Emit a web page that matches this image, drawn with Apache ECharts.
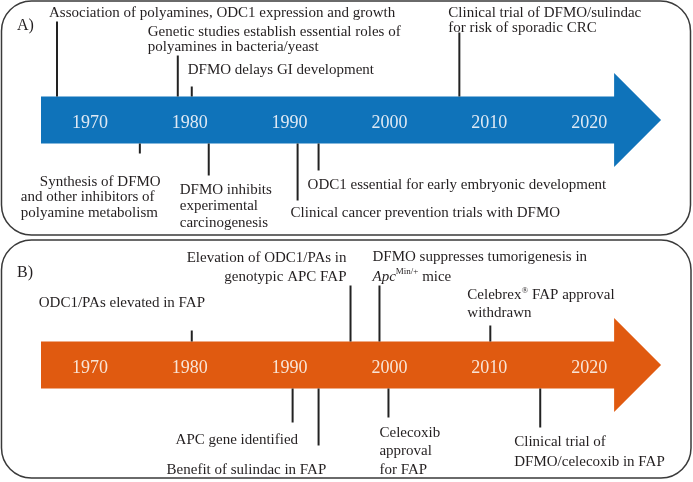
<!DOCTYPE html>
<html><head><meta charset="utf-8">
<script src="https://cdn.jsdelivr.net/npm/echarts@6/dist/echarts.min.js"></script>
<style>html,body{margin:0;padding:0;background:#fff}#c{width:693px;height:482px}</style>
</head><body><div id="c"></div>
<script>
// ---------- data ----------
const yearTicks = [1970, 1980, 1990, 2000, 2010, 2020];
const panelLabels = ['A)', 'B)'];
const timelineRange = [1965.1, 2022.5, 2027.2]; // start, arrow-head base, tip

const eventsAYears = [1966.7, 1978.8, 1980.2, 2007.0, 1975.0, 1981.9, 1990.8, 1992.9];
const eventsASide  = ['above', 'above', 'above', 'above', 'below', 'below', 'below', 'below'];
const eventsALabels = [
  'Association of polyamines, ODC1 expression and growth',
  'Genetic studies establish essential roles of\npolyamines in bacteria/yeast',
  'DFMO delays GI development',
  'Clinical trial of DFMO/sulindac\nfor risk of sporadic CRC',
  '{p|Synthesis of DFMO}\nand other inhibitors of\npolyamine metabolism',
  'DFMO inhibits\nexperimental\ncarcinogenesis',
  'Clinical cancer prevention trials with DFMO',
  'ODC1 essential for early embryonic development'
];

const eventsBYears = [1980.2, 1996.1, 1999.0, 2010.1, 1990.3, 1992.9, 1999.9, 2015.1];
const eventsBSide  = ['above', 'above', 'above', 'above', 'below', 'below', 'below', 'below'];
const eventsBLabels = [
  'ODC1/PAs elevated in FAP',
  'Elevation of ODC1/PAs in\ngenotypic APC FAP',
  'DFMO suppresses tumorigenesis in\n{i|Apc}{s|Min/+} mice',
  'Celebrex{s|®} FAP approval\nwithdrawn',
  'APC gene identified',
  'Benefit of sulindac in FAP',
  'Celecoxib\napproval\nfor FAP',
  'Clinical trial of\nDFMO/celecoxib in FAP'
];

// ---------- layout (pixels): [stemLength, labelDx, labelDy, align, lineHeight] ----------
const layoutA = [
  [75, -8, -107, 'left', 15],
  [41, -30, -80.5, 'left', 15],
  [10, -4, -50, 'left', 15],
  [64, -11, -99.5, 'left', 15],
  [10, -119, 77.5, 'left', 15.5],
  [32, -29, 86.5, 'left', 16.5],
  [57, -7, 93, 'left', 15],
  [27, -11, 65, 'left', 15]
];
const layoutB = [
  [11, -153, -62, 'left', 15],
  [56, -4, -97.5, 'right', 19],
  [56, -7, -98, 'left', 20],
  [16, -23, -61, 'left', 18],
  [34, -117, 75, 'left', 15],
  [57, -152, 105, 'left', 15],
  [29, -9, 86.5, 'left', 18.5],
  [39, -26, 87, 'left', 20]
];

const FONT = "'Liberation Serif', 'Times New Roman', serif";
const TXT = '#231f20';
const BLUE = '#0f73ba';
const ORANGE = '#e05a10';
const BODY_HALF = 23.5, HEAD_HALF = 47;

const rich = {
  p: { padding: [0, 0, 0, 19], fontFamily: FONT, fontSize: 15, fill: TXT },
  i: { fontStyle: 'italic', fontFamily: FONT, fontSize: 15, fill: TXT },
  s: { fontSize: 9, fontFamily: FONT, fill: TXT, verticalAlign: 'top', lineHeight: 10 }
};

function arrowRender(color) {
  return function (params, api) {
    const s = api.value(0), b = api.value(2), t = api.value(3);
    const p = (x, y) => api.coord([x, y]);
    return {
      type: 'polygon',
      shape: { points: [p(s, -BODY_HALF), p(b, -BODY_HALF), p(b, -HEAD_HALF), p(t, 0),
                        p(b, HEAD_HALF), p(b, BODY_HALF), p(s, BODY_HALF)] },
      style: { fill: color }
    };
  };
}

function eventRender(labels, sides, layout) {
  return function (params, api) {
    const idx = api.value(2);
    const [len, dx, dy, align, lh] = layout[idx];
    const dir = sides[idx] === 'above' ? -1 : 1;
    const base = api.coord([api.value(0), dir * BODY_HALF]);
    const center = api.coord([api.value(0), 0]);
    return {
      type: 'group',
      children: [
        { type: 'line', shape: { x1: base[0], y1: base[1], x2: base[0], y2: base[1] + dir * len },
          style: { stroke: '#222', lineWidth: 2 } },
        { type: 'text', x: base[0] + dx, y: center[1] + dy,
          style: { text: labels[idx], fontFamily: FONT, fontSize: 15, fill: TXT,
                   align: align, verticalAlign: 'middle', lineHeight: lh, rich: rich } }
      ]
    };
  };
}

function xAxisFor(gridIndex, labelColor, offset, margin) {
  return {
    type: 'value', gridIndex: gridIndex, min: 1965, max: 2030, z: 10,
    position: 'bottom', offset: offset,
    axisLine: { show: false, onZero: false }, axisTick: { show: false }, splitLine: { show: false },
    axisLabel: { customValues: yearTicks, margin: margin, verticalAlign: 'middle',
                 fontFamily: FONT, fontSize: 18, color: labelColor, formatter: v => String(v) }
  };
}

const chart = echarts.init(document.getElementById('c'), null, { renderer: 'canvas' });
chart.setOption({
  animation: false,
  backgroundColor: '#fff',
  grid: [
    { left: 40, width: 649, top: 0, height: 235 },
    { left: 40, width: 649, top: 240, height: 240 }
  ],
  xAxis: [xAxisFor(0, '#dfe9f4', -115, 3), xAxisFor(1, '#f8e4d6', -115, 3)],
  yAxis: [
    { type: 'value', gridIndex: 0, min: -120, max: 115, inverse: true, show: false },
    { type: 'value', gridIndex: 1, min: -125, max: 115, inverse: true, show: false }
  ],
  graphic: [
    { type: 'rect', shape: { x: 1.5, y: 1, width: 689, height: 234, r: 30 },
      style: { fill: 'none', stroke: '#3a3a3a', lineWidth: 1.5 } },
    { type: 'rect', shape: { x: 1.5, y: 240, width: 689.5, height: 238, r: 30 },
      style: { fill: 'none', stroke: '#3a3a3a', lineWidth: 1.5 } },
    { type: 'text', x: 17, y: 26, style: { text: panelLabels[0], fontFamily: FONT, fontSize: 16, fill: TXT, verticalAlign: 'middle' } },
    { type: 'text', x: 17, y: 273, style: { text: panelLabels[1], fontFamily: FONT, fontSize: 16, fill: TXT, verticalAlign: 'middle' } }
  ],
  series: [
    { type: 'custom', xAxisIndex: 0, yAxisIndex: 0, clip: false, z: 2,
      data: [[timelineRange[0], 0, timelineRange[1], timelineRange[2]]],
      encode: { x: 0, y: 1 }, renderItem: arrowRender(BLUE) },
    { type: 'custom', xAxisIndex: 1, yAxisIndex: 1, clip: false, z: 2,
      data: [[timelineRange[0], 0, timelineRange[1], timelineRange[2]]],
      encode: { x: 0, y: 1 }, renderItem: arrowRender(ORANGE) },
    { type: 'custom', xAxisIndex: 0, yAxisIndex: 0, clip: false, z: 3,
      data: eventsAYears.map((y, i) => [y, 0, i]),
      encode: { x: 0, y: 1 }, renderItem: eventRender(eventsALabels, eventsASide, layoutA) },
    { type: 'custom', xAxisIndex: 1, yAxisIndex: 1, clip: false, z: 3,
      data: eventsBYears.map((y, i) => [y, 0, i]),
      encode: { x: 0, y: 1 }, renderItem: eventRender(eventsBLabels, eventsBSide, layoutB) }
  ]
});
</script></body></html>
